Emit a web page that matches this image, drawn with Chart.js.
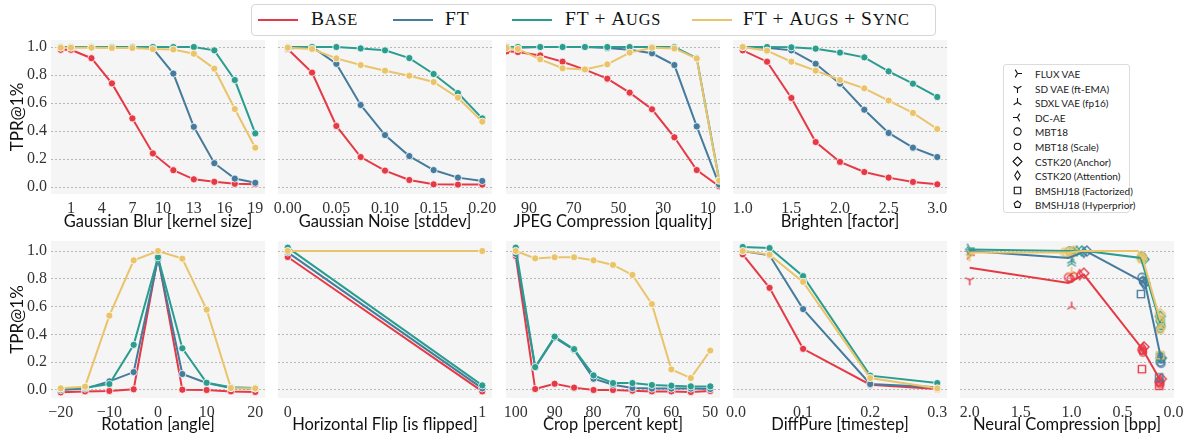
<!DOCTYPE html>
<html>
<head>
<meta charset="utf-8">
<script src="https://cdn.jsdelivr.net/npm/chart.js@4.4.0/dist/chart.umd.min.js"></script>
<style>
    body { margin: 0; background: #fff; width: 1188px; height: 439px; position: relative; overflow: hidden; }
    canvas.panel { position: absolute; }
    #topLegend { position: absolute; left: 251px; top: 4px; width: 683px; height: 30px; border: 1px solid #d6d6d6; border-radius: 4px; }
    #topLegend .ln { position: absolute; top: 14px; width: 40px; height: 2px; }
    #topLegend .tx { position: absolute; top: 3px; font-family: 'Liberation Serif', serif; font-size: 19.5px; color: #111; white-space: nowrap; letter-spacing: 0.8px; }
    #topLegend .sc { font-size: 0.84em; }
    #markerLegend { position: absolute; left: 1003px; top: 64px; width: 125px; height: 147px; border: 1px solid #dcdcdc; border-radius: 3px; }
    #markerLegend .row { position: absolute; left: 0; height: 14px; width: 125px; }
    #markerLegend canvas { position: absolute; left: 7px; top: 0; }
    #markerLegend span { position: absolute; left: 31px; top: 1px; font-family: Lato, sans-serif; font-size: 10px; color: #222; white-space: nowrap; }
</style>
</head>
<body>
<div id="topLegend"></div>
<div id="markerLegend"></div>
<script>
// ---------------- data ----------------
const seriesNames = ['Base', 'FT', 'FT+Augs', 'FT+Augs+Sync'];
const seriesColors = ['#e63946', '#457b9d', '#2a9d8f', '#e9c46a'];
const yTicks = [0, 0.2, 0.4, 0.6, 0.8, 1.0];

const blurX = [0, 1, 3, 5, 7, 9, 11, 13, 15, 17, 19];
const blurTicks = [1, 4, 7, 10, 13, 16, 19];
const blurBase = [0.98, 0.98, 0.92, 0.74, 0.49, 0.24, 0.12, 0.055, 0.037, 0.023, 0.02];
const blurFT   = [1.0, 1.0, 1.0, 1.0, 1.0, 0.99, 0.81, 0.43, 0.17, 0.06, 0.03];
const blurAugs = [1.0, 1.0, 1.0, 1.0, 1.0, 1.0, 1.0, 1.0, 0.976, 0.764, 0.383];
const blurSync = [0.995, 0.995, 0.995, 0.993, 0.993, 0.985, 0.982, 0.952, 0.845, 0.557, 0.281];

const noiseX = [0, 0.025, 0.05, 0.075, 0.1, 0.125, 0.15, 0.175, 0.2];
const noiseTicks = [0, 0.05, 0.1, 0.15, 0.2];
const noiseBase = [0.986, 0.817, 0.436, 0.214, 0.117, 0.05, 0.019, 0.017, 0.017];
const noiseFT   = [0.99, 1.0, 0.88, 0.586, 0.371, 0.221, 0.121, 0.067, 0.043];
const noiseAugs = [1.0, 1.0, 1.0, 0.99, 0.976, 0.921, 0.807, 0.671, 0.49];
const noiseSync = [0.995, 0.986, 0.919, 0.871, 0.831, 0.795, 0.75, 0.638, 0.467];

const jpegX = [100, 95, 85, 75, 65, 55, 45, 35, 25, 15, 5];
const jpegTicks = [90, 70, 50, 30, 10];
const jpegBase = [0.969, 0.964, 0.94, 0.895, 0.838, 0.774, 0.674, 0.555, 0.355, 0.121, 0.005];
const jpegFT   = [0.995, 0.995, 1.0, 1.0, 1.0, 0.993, 0.98, 0.955, 0.871, 0.433, 0.017];
const jpegAugs = [1.0, 1.0, 1.0, 1.0, 1.0, 1.0, 1.0, 1.0, 1.0, 0.92, 0.052];
const jpegSync = [0.993, 0.986, 0.912, 0.848, 0.84, 0.876, 0.96, 0.995, 0.99, 0.918, 0.045];

const brightX = [1.0, 1.25, 1.5, 1.75, 2.0, 2.25, 2.5, 2.75, 3.0];
const brightTicks = [1.0, 1.5, 2.0, 2.5, 3.0];
const brightBase = [0.976, 0.895, 0.636, 0.321, 0.179, 0.107, 0.067, 0.036, 0.019];
const brightFT   = [1.0, 0.995, 0.976, 0.88, 0.738, 0.552, 0.386, 0.281, 0.214];
const brightAugs = [1.0, 1.0, 0.998, 0.988, 0.96, 0.926, 0.826, 0.738, 0.643];
const brightSync = [1.0, 0.974, 0.895, 0.831, 0.764, 0.705, 0.617, 0.529, 0.414];

const rotX = [-20, -15, -10, -5, 0, 5, 10, 15, 20];
const rotTicks = [-20, -10, 0, 10, 20];
const rotBase = [-0.017, -0.01, -0.007, 0.005, 0.962, 0.002, 0.0, -0.01, -0.014];
const rotFT   = [0.0, 0.01, 0.062, 0.129, 0.945, 0.115, 0.05, 0.014, 0.01];
const rotAugs = [0.01, 0.017, 0.043, 0.325, 0.955, 0.30, 0.052, 0.019, 0.014];
const rotSync = [0.012, 0.024, 0.535, 0.933, 1.0, 0.945, 0.578, 0.014, 0.012];

const flipX = [0, 1];
const flipTicks = [0, 1];
const flipBase = [0.957, -0.01];
const flipFT   = [0.99, 0.012];
const flipAugs = [1.024, 0.033];
const flipSync = [1.0, 1.0];

const cropX = [100, 95, 90, 85, 80, 75, 70, 65, 60, 55, 50];
const cropTicks = [100, 90, 80, 70, 60, 50];
const cropBase = [0.964, 0.007, 0.045, 0.017, 0.0, 0.0, -0.005, -0.01, -0.01, -0.014, -0.007];
const cropFT   = [0.98, 0.162, 0.377, 0.289, 0.081, 0.038, 0.014, 0.01, 0.01, 0.01, 0.007];
const cropAugs = [1.024, 0.165, 0.384, 0.294, 0.105, 0.05, 0.05, 0.036, 0.031, 0.026, 0.026];
const cropSync = [1.0, 0.947, 0.955, 0.955, 0.933, 0.9, 0.828, 0.618, 0.148, 0.086, 0.284];

const diffX = [0.01, 0.05, 0.1, 0.2, 0.3];
const diffTicks = [0.0, 0.1, 0.2, 0.3];
const diffBase = [0.976, 0.735, 0.296, 0.038, 0.007];
const diffFT   = [1.0, 0.969, 0.582, 0.043, 0.019];
const diffAugs = [1.029, 1.021, 0.819, 0.103, 0.05];
const diffSync = [1.0, 0.974, 0.778, 0.086, 0.012];

// neural compression: models, line vertices and per-model points [model, bpp, tpr]
const ncModels = ['FLUX VAE', 'SD VAE (ft-EMA)', 'SDXL VAE (fp16)', 'DC-AE', 'MBT18', 'MBT18 (Scale)',
                  'CSTK20 (Anchor)', 'CSTK20 (Attention)', 'BMSHJ18 (Factorized)', 'BMSHJ18 (Hyperprior)'];
const ncShapes = ['triRight', 'triDown', 'triUp', 'triLeft', 'circle', 'circleSmall', 'diamond', 'thinDiamond', 'square', 'pentagon'];
const ncTicks = [2.0, 1.5, 1.0, 0.5, 0.0];

const ncBaseLineX = [2.0, 1.03, 0.88, 0.3, 0.13];
const ncBaseLineY = [0.88, 0.77, 0.83, 0.29, 0.07];
const ncFTLineX   = [2.0, 1.03, 0.86, 0.28, 0.12];
const ncFTLineY   = [1.0, 0.95, 1.0, 0.77, 0.22];
const ncAugsLineX = [2.0, 1.03, 0.86, 0.32, 0.13];
const ncAugsLineY = [1.01, 1.0, 1.0, 0.95, 0.48];
const ncSyncLineX = [2.0, 1.03, 0.9, 0.35, 0.3, 0.13];
const ncSyncLineY = [0.99, 0.99, 1.0, 1.0, 0.94, 0.5];

const ncBasePts = [[0, 2.0, 0.97], [1, 2.0, 0.79], [2, 1.0, 0.60], [4, 1.03, 0.81], [5, 1.01, 0.80],
                   [6, 0.88, 0.84], [7, 0.92, 0.83], [9, 0.98, 0.82],
                   [4, 0.31, 0.29], [5, 0.3, 0.27], [6, 0.29, 0.31], [7, 0.3, 0.30], [8, 0.31, 0.15], [9, 0.3, 0.28],
                   [4, 0.14, 0.06], [5, 0.13, 0.04], [6, 0.12, 0.08], [7, 0.13, 0.07], [8, 0.14, 0.03], [9, 0.13, 0.05]];
const ncFTPts   = [[0, 2.0, 1.0], [1, 2.0, 0.99], [2, 1.0, 0.93], [6, 0.85, 1.0], [7, 0.88, 0.99],
                   [4, 0.31, 0.81], [5, 0.3, 0.78], [6, 0.28, 0.77], [7, 0.29, 0.76], [8, 0.32, 0.69], [9, 0.3, 0.79],
                   [4, 0.13, 0.20], [5, 0.12, 0.19], [6, 0.12, 0.23], [7, 0.13, 0.24], [8, 0.14, 0.09], [9, 0.12, 0.22]];
const ncAugsPts = [[0, 2.0, 1.02], [1, 2.0, 1.0], [2, 1.0, 0.91], [3, 1.0, 0.96], [4, 1.02, 1.0], [5, 0.99, 1.0],
                   [6, 0.9, 1.0], [7, 0.95, 1.0],
                   [4, 0.31, 0.96], [5, 0.3, 0.95], [6, 0.29, 0.94], [7, 0.3, 0.95], [9, 0.31, 0.96],
                   [4, 0.13, 0.50], [5, 0.12, 0.46], [6, 0.13, 0.53], [7, 0.12, 0.48], [8, 0.13, 0.24], [9, 0.13, 0.44]];
const ncSyncPts = [[0, 2.0, 0.98], [1, 2.0, 0.96], [2, 1.0, 0.85], [3, 1.0, 0.98], [4, 1.07, 0.99], [5, 1.03, 1.0],
                   [6, 0.98, 1.0], [7, 1.0, 0.99], [9, 1.05, 0.98],
                   [4, 0.32, 0.95], [5, 0.3, 0.94], [6, 0.31, 0.96], [7, 0.3, 0.95], [9, 0.32, 0.94],
                   [4, 0.13, 0.52], [5, 0.12, 0.45], [6, 0.13, 0.55], [7, 0.12, 0.49], [8, 0.13, 0.25], [9, 0.13, 0.43]];

// ---------------- layout ----------------
const SERIF = "'Liberation Serif', 'DejaVu Serif', serif";
const SANS = "Lato, 'Open Sans', sans-serif";
const PLOT_LEFT = [51, 278, 506, 733, 960];
const PLOT_W = 214;
const PAD_TOP = 14;
const PAD_R = 16;
const ROWS = [
    { top: 40, h: 154, axisH: 38, min: -0.05, max: 1.05 },
    { top: 241, h: 157, axisH: 37, min: -0.0576, max: 1.072 }
];

const panels = [
    { row: 0, col: 0, x: blurX, ys: [blurBase, blurFT, blurAugs, blurSync], ticks: blurTicks, dec: 0, min: -0.95, max: 19.95, title: 'Gaussian Blur [kernel size]' },
    { row: 0, col: 1, x: noiseX, ys: [noiseBase, noiseFT, noiseAugs, noiseSync], ticks: noiseTicks, dec: 2, min: -0.01, max: 0.21, title: 'Gaussian Noise [stddev]' },
    { row: 0, col: 2, x: jpegX, ys: [jpegBase, jpegFT, jpegAugs, jpegSync], ticks: jpegTicks, dec: 0, min: 4.6, max: 100.3, reverse: true, title: 'JPEG Compression [quality]' },
    { row: 0, col: 3, x: brightX, ys: [brightBase, brightFT, brightAugs, brightSync], ticks: brightTicks, dec: 1, min: 0.9, max: 3.1, title: 'Brighten [factor]' },
    { row: 1, col: 0, x: rotX, ys: [rotBase, rotFT, rotAugs, rotSync], ticks: rotTicks, dec: 0, min: -22, max: 22, title: 'Rotation [angle]' },
    { row: 1, col: 1, x: flipX, ys: [flipBase, flipFT, flipAugs, flipSync], ticks: flipTicks, dec: 0, min: -0.05, max: 1.05, title: 'Horizontal Flip [is flipped]' },
    { row: 1, col: 2, x: cropX, ys: [cropBase, cropFT, cropAugs, cropSync], ticks: cropTicks, dec: 0, min: 47.5, max: 102.5, reverse: true, title: 'Crop [percent kept]' },
    { row: 1, col: 3, x: diffX, ys: [diffBase, diffFT, diffAugs, diffSync], ticks: diffTicks, dec: 1, min: -0.0045, max: 0.3145, title: 'DiffPure [timestep]' },
    { row: 1, col: 4, nc: true, ticks: ncTicks, dec: 1, min: -0.005, max: 2.095, reverse: true, title: 'Neural Compression [bpp]' }
];

// light grey plot background
const plotBg = {
    id: 'plotBg',
    beforeDraw(chart) {
        const { ctx, chartArea: a } = chart;
        ctx.save();
        ctx.fillStyle = '#f5f5f5';
        ctx.fillRect(a.left, a.top, a.width, a.height);
        ctx.restore();
    }
};

function fmt(v, dec) {
    const s = Math.abs(v).toFixed(dec);
    return v < 0 ? '\u2212' + s : s;
}

// hollow matplotlib-like marker drawn on a small canvas
function markerCanvas(shape, color, size, lw) {
    const s = Math.ceil(size + 4);
    const cv = document.createElement('canvas');
    cv.width = s; cv.height = s;
    const g = cv.getContext('2d');
    g.strokeStyle = color;
    g.lineWidth = lw;
    const c = s / 2, r = size / 2;
    g.beginPath();
    const triBase = { triRight: 0, triDown: 90, triLeft: 180, triUp: 270 }[shape];
    if (triBase !== undefined) {
        for (let k = 0; k < 3; k++) {
            const a = (triBase + k * 120) * Math.PI / 180;
            g.moveTo(c, c);
            g.lineTo(c + r * Math.cos(a), c + r * Math.sin(a));
        }
    } else if (shape === 'circle' || shape === 'circleSmall') {
        g.arc(c, c, shape === 'circle' ? r * 0.8 : r * 0.72, 0, Math.PI * 2);
    } else if (shape === 'diamond' || shape === 'thinDiamond') {
        const hw = shape === 'diamond' ? r : r * 0.62;
        g.moveTo(c, c - r); g.lineTo(c + hw, c); g.lineTo(c, c + r); g.lineTo(c - hw, c); g.closePath();
    } else if (shape === 'square') {
        g.rect(c - r * 0.72, c - r * 0.72, r * 1.44, r * 1.44);
    } else if (shape === 'pentagon') {
        for (let k = 0; k < 5; k++) {
            const a = (-90 + k * 72) * Math.PI / 180;
            const px = c + r * 0.78 * Math.cos(a), py = c + r * 0.78 * Math.sin(a);
            if (k === 0) g.moveTo(px, py); else g.lineTo(px, py);
        }
        g.closePath();
    }
    g.stroke();
    return cv;
}

function lineDataset(xs, ys, k, withPoints) {
    const c = seriesColors[k];
    return {
        data: xs.map((x, i) => ({ x: x, y: ys[i] })),
        showLine: true,
        borderColor: c,
        backgroundColor: c,
        borderWidth: 2,
        pointRadius: withPoints ? 3.6 : 0,
        pointBackgroundColor: c,
        pointBorderColor: '#ffffff',
        pointBorderWidth: 0.8,
        order: 10 - k
    };
}

function ncDatasets() {
    const lines = [[ncBaseLineX, ncBaseLineY], [ncFTLineX, ncFTLineY], [ncAugsLineX, ncAugsLineY], [ncSyncLineX, ncSyncLineY]];
    const pts = [ncBasePts, ncFTPts, ncAugsPts, ncSyncPts];
    const out = [];
    lines.forEach((l, k) => out.push(lineDataset(l[0], l[1], k, false)));
    pts.forEach((list, k) => {
        const marks = ncShapes.map(sh => markerCanvas(sh, seriesColors[k], 10, 1.4));
        out.push({
            data: list.map(p => ({ x: p[1], y: p[2], m: p[0] })),
            showLine: false,
            pointRadius: 4,
            pointStyle: ctx => marks[ctx.raw ? ctx.raw.m : 4],
            order: 20 - k
        });
    });
    return out;
}

function makePanel(p) {
    const row = ROWS[p.row];
    const first = p.col === 0;
    const padL = first ? 0 : 24;
    const yW = first ? 51 : 0;
    const left = PLOT_LEFT[p.col] - yW - padL;
    const top = row.top - PAD_TOP;
    const w = padL + yW + PLOT_W + PAD_R;
    const h = PAD_TOP + row.h + row.axisH;

    const cv = document.createElement('canvas');
    cv.className = 'panel';
    cv.width = w; cv.height = h;
    cv.style.left = left + 'px';
    cv.style.top = top + 'px';
    cv.style.width = w + 'px';
    cv.style.height = h + 'px';
    document.body.appendChild(cv);

    const datasets = p.nc ? ncDatasets() : p.ys.map((ys, k) => lineDataset(p.x, ys, k, true));

    new Chart(cv, {
        type: 'scatter',
        data: { datasets: datasets },
        options: {
            responsive: false,
            animation: false,
            devicePixelRatio: 1,
            layout: { padding: { top: PAD_TOP, left: padL, right: PAD_R, bottom: 0 } },
            plugins: { legend: { display: false }, tooltip: { enabled: false } },
            scales: {
                x: {
                    type: 'linear',
                    min: p.min,
                    max: p.max,
                    reverse: !!p.reverse,
                    afterBuildTicks: s => { s.ticks = p.ticks.map(v => ({ value: v })); },
                    afterFit: s => { s.height = row.axisH; },
                    grid: { display: false, drawTicks: false },
                    border: { display: false },
                    ticks: {
                        autoSkip: false, maxRotation: 0, padding: 5, color: '#333',
                        font: { family: SERIF, size: 16 },
                        callback: v => fmt(v, p.dec)
                    },
                    title: { display: true, text: p.title, color: '#111', font: { family: SANS, size: 16.5 }, padding: 0 }
                },
                y: {
                    type: 'linear',
                    min: row.min,
                    max: row.max,
                    afterBuildTicks: s => { s.ticks = yTicks.map(v => ({ value: v })); },
                    afterFit: s => { s.width = yW; },
                    grid: { color: '#b8b8b8', lineWidth: 1, drawTicks: false },
                    border: { display: false, dash: [2, 2] },
                    ticks: {
                        display: first, padding: 4, color: '#333',
                        font: { family: SERIF, size: 16 },
                        callback: v => fmt(v, 1)
                    },
                    title: { display: first, text: 'TPR@1%', color: '#111', font: { family: SANS, size: 17 }, padding: { top: 7, bottom: 0 } }
                }
            }
        },
        plugins: [plotBg]
    });
}

// ---------------- legends ----------------
// small caps built by hand: lowercase letters become smaller capitals, '+' gets math spacing
function fillSmallCaps(el, text) {
    for (const ch of text) {
        const sp = document.createElement('span');
        if (ch === '+') {
            sp.textContent = '+';
            sp.style.margin = '0 5px';
        } else if (ch !== ch.toUpperCase()) {
            sp.className = 'sc';
            sp.textContent = ch.toUpperCase();
        } else {
            sp.textContent = ch;
        }
        el.appendChild(sp);
    }
}

function buildTopLegend() {
    const box = document.getElementById('topLegend');
    const lineLefts = [6, 141, 260, 440];
    const textLefts = [59, 193, 313, 491];
    seriesNames.forEach((name, k) => {
        const ln = document.createElement('div');
        ln.className = 'ln';
        ln.style.left = lineLefts[k] + 'px';
        ln.style.background = seriesColors[k];
        box.appendChild(ln);
        const tx = document.createElement('div');
        tx.className = 'tx';
        tx.style.left = textLefts[k] + 'px';
        fillSmallCaps(tx, name);
        box.appendChild(tx);
    });
}

function buildMarkerLegend() {
    const box = document.getElementById('markerLegend');
    ncModels.forEach((name, i) => {
        const row = document.createElement('div');
        row.className = 'row';
        row.style.top = (2 + i * 14.6) + 'px';
        const cv = markerCanvas(ncShapes[i], '#111', 9, 1.1);
        row.appendChild(cv);
        const sp = document.createElement('span');
        sp.textContent = name;
        row.appendChild(sp);
        box.appendChild(row);
    });
}

buildTopLegend();
buildMarkerLegend();
panels.forEach(makePanel);
</script>
</body>
</html>
